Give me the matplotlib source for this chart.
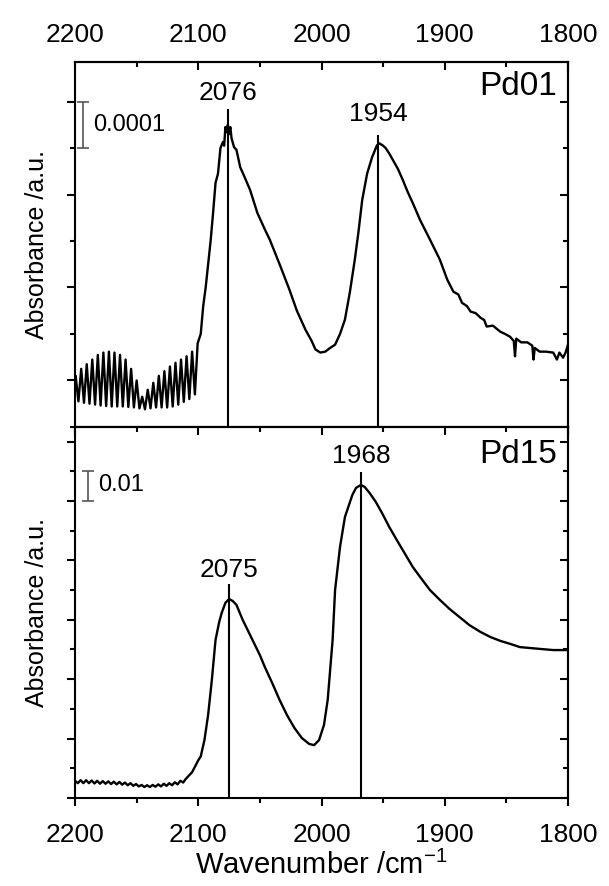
import numpy as np
import matplotlib
matplotlib.use("Agg")
import matplotlib.pyplot as plt
from matplotlib.ticker import MultipleLocator, FixedLocator

plt.rcParams['font.family'] = ['Liberation Sans', 'DejaVu Sans']
plt.rcParams['mathtext.fontset'] = 'custom'
plt.rcParams['mathtext.rm'] = 'Liberation Sans'

# Pd01 spectrum, absorbance in units of 1e-4
# fringe zone 2200-2100: alternating crest / trough readings
pd01_wn = [2200, 2199.5, 2197.25, 2195, 2192.75, 2190.5, 2188.25, 2186, 2183.75, 2181.5,
           2179.25, 2177, 2174.75, 2172.5, 2170.25, 2168, 2165.75, 2163.5, 2161.25, 2159,
           2156.75, 2154.5, 2152.25, 2150, 2147.75, 2145.5, 2143.25, 2141, 2138.75, 2136.5,
           2134.25, 2132, 2129.75, 2127.5, 2125.25, 2123, 2120.75, 2118.5, 2116.25, 2114,
           2111.75, 2109.5, 2107.25, 2105, 2102.75, 2100.5,
           2098, 2096, 2094, 2092, 2090, 2088, 2086, 2084, 2082, 2080, 2079, 2078, 2077,
           2076, 2075, 2074, 2073, 2071, 2069, 2066, 2062, 2058, 2052, 2046, 2042, 2034,
           2026, 2020, 2013, 2008, 2005, 2001, 1997, 1993, 1989, 1985, 1981, 1977, 1973,
           1970, 1967, 1963, 1959, 1955, 1953, 1950, 1948, 1945, 1942, 1938, 1934, 1930,
           1926, 1920, 1912, 1904, 1898, 1893, 1889, 1886, 1882, 1879, 1875, 1871, 1868,
           1866, 1861, 1855, 1851, 1847, 1844, 1843, 1842, 1838, 1833, 1829, 1828, 1827,
           1823, 1818, 1812, 1809, 1807, 1804, 1802, 1800]
pd01_abs = [-0.2, 0.1, -0.45, 0.25, -0.48, 0.35, -0.5, 0.45, -0.52, 0.55,
            -0.54, 0.6, -0.55, 0.62, -0.56, 0.6, -0.56, 0.55, -0.56, 0.45,
            -0.57, 0.25, -0.58, 0.0, -0.6, -0.35, -0.62, -0.2, -0.6, -0.05,
            -0.58, 0.1, -0.58, 0.2, -0.58, 0.3, -0.56, 0.38, -0.52, 0.45,
            -0.46, 0.52, -0.4, 0.62, -0.3, 0.8,
            1.0, 1.6, 2.0, 2.5, 3.0, 3.6, 4.25, 4.45, 5.0, 5.13, 5.05, 5.45, 5.34,
            5.5, 5.3, 5.45, 5.21, 5.02, 4.96, 4.59, 4.35, 4.1, 3.6, 3.25, 3.03, 2.5,
            1.95, 1.5, 1.09, 0.85, 0.67, 0.6, 0.62, 0.7, 0.77, 1.0, 1.31, 1.9, 2.6,
            3.2, 3.88, 4.45, 4.8, 5.06, 5.1, 5.05, 5.0, 4.88, 4.74, 4.55, 4.31, 4.05,
            3.82, 3.45, 3.03, 2.6, 2.17, 1.91, 1.85, 1.67, 1.6, 1.48, 1.45, 1.35, 1.3,
            1.16, 1.18, 1.05, 1.0, 0.94, 0.85, 0.52, 0.9, 0.82, 0.82, 0.75, 0.45, 0.7,
            0.62, 0.62, 0.6, 0.45, 0.6, 0.49, 0.6, 0.77]

# Pd15 spectrum, absorbance in units of 1e-2
pd15_wn = [2200, 2197.75, 2195.5, 2193.25, 2191, 2188.75, 2186.5, 2184.25, 2182, 2179.75,
           2177.5, 2175.25, 2173, 2170.75, 2168.5, 2166.25, 2164, 2161.75, 2159.5, 2157.25,
           2155, 2152.75, 2150.5, 2148.25, 2146, 2143.75, 2141.5, 2139.25, 2137, 2134.75,
           2132.5, 2130.25, 2128, 2125.75, 2123.5, 2121.25, 2119, 2116.75, 2114.5, 2112.25,
           2110, 2105, 2100, 2098, 2095, 2092, 2089, 2086, 2083, 2081, 2078, 2075, 2072,
           2069, 2064, 2060, 2056, 2050, 2046, 2040, 2034, 2028, 2022, 2016, 2010, 2006,
           2002, 1998, 1995, 1993, 1991, 1989, 1985, 1981, 1975, 1972, 1968, 1965, 1961,
           1956, 1951, 1945, 1939, 1932, 1926, 1920, 1912, 1904, 1896, 1888, 1880, 1871,
           1863, 1855, 1847, 1839, 1831, 1823, 1812, 1800]
pd15_abs = [0.58, 0.5, 0.6, 0.5, 0.6, 0.5, 0.59, 0.49, 0.58, 0.48,
            0.57, 0.48, 0.56, 0.47, 0.55, 0.46, 0.54, 0.45, 0.52, 0.43,
            0.5, 0.41, 0.47, 0.39, 0.44, 0.37, 0.43, 0.37, 0.44, 0.38,
            0.46, 0.39, 0.48, 0.41, 0.5, 0.43, 0.53, 0.46, 0.58, 0.52,
            0.65, 0.87, 1.27, 1.4, 1.95, 2.8, 3.97, 5.32, 5.93, 6.23, 6.57, 6.7, 6.63,
            6.5, 6.0, 5.66, 5.32, 4.81, 4.41, 3.87, 3.3, 2.79, 2.36, 2.02, 1.82, 1.78,
            1.95, 2.46, 3.3, 4.31, 5.32, 7.0, 8.45, 9.46, 10.2, 10.44, 10.54, 10.47, 10.27,
            9.97, 9.6, 9.12, 8.69, 8.2, 7.78, 7.44, 7.0, 6.67, 6.36, 6.09, 5.82, 5.59,
            5.42, 5.29, 5.19, 5.08, 5.05, 5.02, 4.98, 4.98]

pd01_peaks = [2076, 1954]
pd15_peaks = [2075, 1968]
x_major = [2200, 2100, 2000, 1900, 1800]
x_minor = [2150, 2050, 1950, 1850]

fig = plt.figure(figsize=(6.09, 8.86), dpi=100)
ax1 = fig.add_axes([0.1232, 0.5181, 0.8095, 0.4119])
ax2 = fig.add_axes([0.1232, 0.0993, 0.8095, 0.4188])

lw = 1.5

# ---- top panel (Pd01)
ax1.plot(pd01_wn, np.array(pd01_abs) * 1e-4, color='black', lw=1.7)
ax1.set_xlim(2200, 1800)
ax1.set_ylim(-1.0e-4, 6.85e-4)
ax1.vlines(pd01_peaks[0], -1.0e-4, 5.84e-4, color='black', lw=1.5)
ax1.vlines(pd01_peaks[1], -1.0e-4, 5.28e-4, color='black', lw=1.5)
ax1.text(pd01_peaks[0], 6.19e-4, str(pd01_peaks[0]), ha='center', va='center', fontsize=19)
ax1.text(pd01_peaks[1], 5.74e-4, str(pd01_peaks[1]), ha='center', va='center', fontsize=19)
ax1.text(0.978, 0.934, 'Pd01', transform=ax1.transAxes, ha='right', va='center', fontsize=24)
# scale bar
ax1.errorbar([2193.5], [5.5e-4], yerr=[0.5e-4], color='#555555', lw=1.2, capsize=4, capthick=1.2)
ax1.text(2185.4, 5.49e-4, '0.0001', ha='left', va='center', fontsize=17)

# ---- bottom panel (Pd15)
ax2.plot(pd15_wn, np.array(pd15_abs) * 1e-2, color='black', lw=1.7)
ax2.set_xlim(2200, 1800)
ax2.set_ylim(0, 0.1249)
ax2.vlines(pd15_peaks[0], 0, 0.072, color='black', lw=1.5)
ax2.vlines(pd15_peaks[1], 0, 0.1098, color='black', lw=1.5)
ax2.text(pd15_peaks[0], 0.0768, str(pd15_peaks[0]), ha='center', va='center', fontsize=19)
ax2.text(pd15_peaks[1], 0.1152, str(pd15_peaks[1]), ha='center', va='center', fontsize=19)
ax2.text(0.978, 0.925, 'Pd15', transform=ax2.transAxes, ha='right', va='center', fontsize=24)
ax2.errorbar([2189.5], [0.105], yerr=[0.005], color='#555555', lw=1.2, capsize=4, capthick=1.2)
ax2.text(2181.3, 0.1054, '0.01', ha='left', va='center', fontsize=17)
ax2.set_xlabel('Wavenumber /cm$^{-1}$', fontsize=21, labelpad=3)

for ax, ymaj, ymin in [(ax1, 2e-4, 1e-4), (ax2, 0.02, 0.01)]:
    for s in ax.spines.values():
        s.set_linewidth(lw)
    ax.xaxis.set_major_locator(FixedLocator(x_major))
    ax.xaxis.set_minor_locator(FixedLocator(x_minor))
    ax.yaxis.set_major_locator(MultipleLocator(ymaj))
    ax.yaxis.set_minor_locator(MultipleLocator(ymin))
    ax.tick_params(axis='both', which='major', direction='out', length=6, width=1.5, labelsize=19)
    ax.tick_params(axis='both', which='minor', direction='out', length=3.5, width=1.5)
    ax.tick_params(axis='y', labelleft=False)
    # mirrored ticks pointing inwards on the right and top
    sy = ax.secondary_yaxis('right')
    sy.yaxis.set_major_locator(MultipleLocator(ymaj))
    sy.yaxis.set_minor_locator(MultipleLocator(ymin))
    sy.tick_params(which='major', direction='in', length=6, width=1.5, labelright=False)
    sy.tick_params(which='minor', direction='in', length=3.5, width=1.5)
    sy.spines['right'].set_linewidth(lw)
    sx = ax.secondary_xaxis('top')
    sx.xaxis.set_major_locator(FixedLocator(x_major))
    sx.xaxis.set_minor_locator(FixedLocator(x_minor))
    sx.tick_params(which='major', direction='in', length=6, width=1.5, labelsize=19, pad=11)
    sx.tick_params(which='minor', direction='in', length=3.5, width=1.5)
    sx.spines['top'].set_linewidth(lw)
    if ax is ax2:
        sx.tick_params(labeltop=False)
        ax.tick_params(axis='x', pad=12)
    else:
        ax.tick_params(axis='x', labelbottom=False)

fig.text(37 / 609, 0.724, 'Absorbance /a.u.', rotation=90, ha='center', va='center', fontsize=18)
fig.text(37 / 609, 0.309, 'Absorbance /a.u.', rotation=90, ha='center', va='center', fontsize=18)

fig.savefig('out.png', dpi=100)
